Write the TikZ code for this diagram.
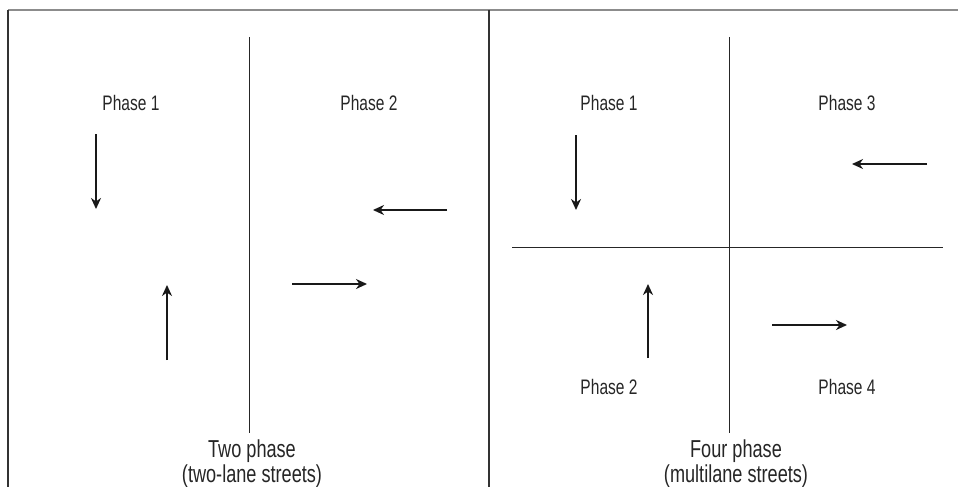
\documentclass[tikz,border=0pt]{standalone}
\usepackage{fontspec}
\setmainfont{Liberation Sans}[FakeStretch=0.74]
\usetikzlibrary{arrows.meta}
\tikzset{
  flow/.style={-{Stealth[length=11pt,width=10pt,inset=3.5pt]},line width=1.8pt,black!90},
  phase/.style={text=black!85,font=\fontsize{21}{25}\selectfont},
  caption/.style={text=black!85,font=\fontsize{24.5}{25}\selectfont,align=center},
  divider/.style={line width=0.9pt,black!85},
}
\begin{document}
\begin{tikzpicture}[x=1pt,y=-1pt]
  \useasboundingbox (0,0) rectangle (958,487);
  % frame
  \draw[line width=2.2pt,black!45] (8,10) -- (958,10);
  \draw[line width=2.2pt,black!80] (8,10) -- (8,487);
  \draw[line width=2.2pt,black!80] (489,10) -- (489,487);
  % two phase
  \draw[divider] (249,37) -- (249,433);
  \node[phase] (twoa) at (131,103) {Phase 1};
  \node[phase] (twob) at (369,103) {Phase 2};
  \draw[flow] (96,134) -- (96,209);
  \draw[flow] (167,360) -- (167,285);
  \draw[flow] (447,210) -- (373,210);
  \draw[flow] (292,284) -- (367,284);
  \node[caption] (twocap) at (252,464) {Two phase\\(two-lane streets)};
  % four phase
  \draw[divider] (729,37) -- (729,433);
  \draw[divider] (512,247) -- (943,247);
  \node[phase] (foura) at (609,103) {Phase 1};
  \node[phase] (fourc) at (847,103) {Phase 3};
  \node[phase] (fourb) at (609,387) {Phase 2};
  \node[phase] (fourd) at (847,387) {Phase 4};
  \draw[flow] (576,135) -- (576,210);
  \draw[flow] (927,164) -- (852,164);
  \draw[flow] (648,358) -- (648,284);
  \draw[flow] (772,325) -- (847,325);
  \node[caption] (fourcap) at (736,464) {Four phase\\(multilane streets)};
\end{tikzpicture}
\end{document}
